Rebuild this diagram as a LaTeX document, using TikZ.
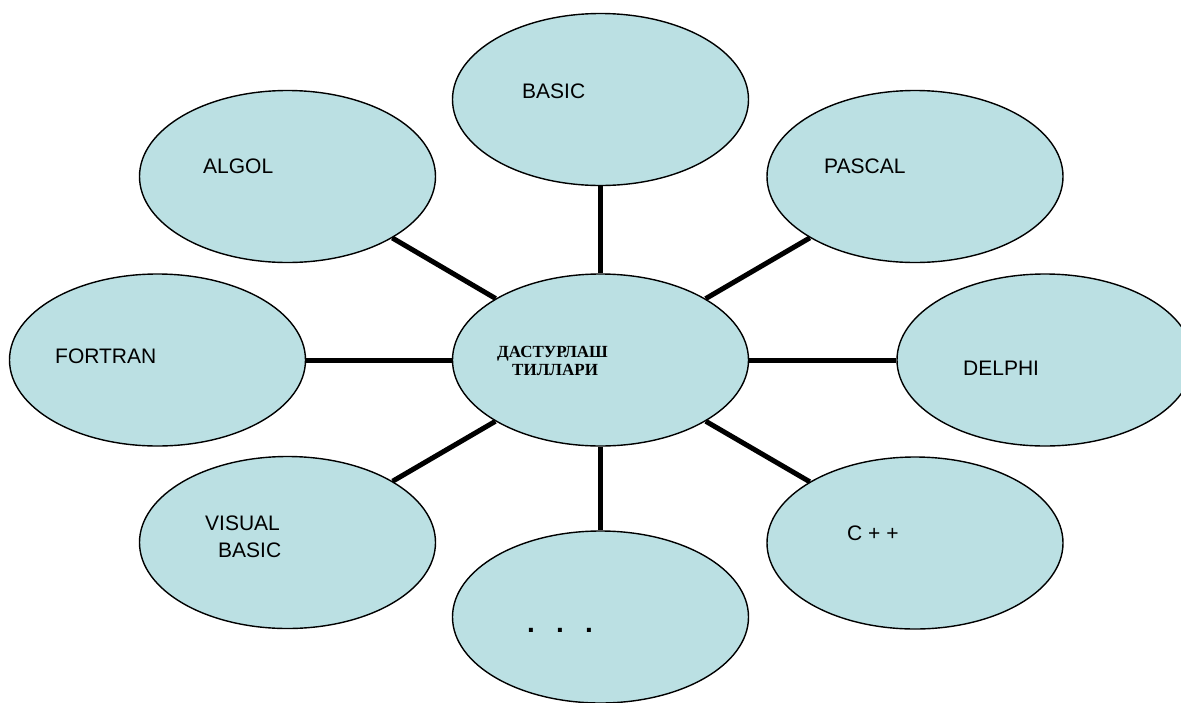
\documentclass[tikz,border=0pt]{standalone}
\usepackage{fontspec}
\setmainfont{Liberation Sans}
\newfontfamily\serifbold{Liberation Serif}
\usetikzlibrary{shapes.geometric}
\definecolor{bubble}{RGB}{187,224,227}
\tikzset{
  bub/.style={ellipse, draw=black, line width=1.4pt, fill=bubble, inner sep=0pt,
              minimum width=296pt, minimum height=172pt},
  conn/.style={draw=black, line width=5pt},
  lbl/.style={anchor=base west, inner sep=0pt, font=\fontsize{21}{27}\selectfont, align=left},
  ctrlbl/.style={anchor=base west, inner sep=0pt, font=\serifbold\bfseries\fontsize{17}{18}\selectfont},
}
\begin{document}
\begin{tikzpicture}[x=1pt,y=-1pt]
\useasboundingbox (0,0) rectangle (1181,702);
% ellipses
\node[bub] (ctr) at (600.5,360) {};
\node[bub] (basic) at (600.5,99.5) {};
\node[bub] (algol) at (287.5,176.5) {};
\node[bub] (pascal) at (915,176.5) {};
\node[bub] (fortran) at (157.5,360) {};
\node[bub] (delphi) at (1045,360) {};
\node[bub] (visual) at (287.5,542.5) {};
\node[bub] (cpp) at (915,543) {};
\node[bub] (dots) at (600.5,617) {};
% connectors
\path[conn] (ctr) -- (basic);
\path[conn] (ctr) -- (algol);
\path[conn] (ctr) -- (pascal);
\path[conn] (ctr) -- (fortran);
\path[conn] (ctr) -- (delphi);
\path[conn] (ctr) -- (visual);
\path[conn] (ctr) -- (cpp);
\path[conn] (ctr) -- (dots);
% labels
\node[ctrlbl] (tc1) at (497,357) {ДАСТУРЛАШ};
\node[ctrlbl] (tc2) at (512,375) {ТИЛЛАРИ};
\node[lbl] (tbasic) at (522,98) {BASIC};
\node[lbl] (talgol) at (203,173) {ALGOL};
\node[lbl] (tpascal) at (824,173) {PASCAL};
\node[lbl] (tfortran) at (55,363) {FORTRAN};
\node[lbl] (tdelphi) at (963,375) {DELPHI};
\node[lbl] (tvis1) at (205,530) {VISUAL};
\node[lbl] (tvis2) at (218,557) {BASIC};
\node[lbl] (tcpp) at (847,540) {C + +};
\node[anchor=base, inner sep=0pt, font=\fontsize{28}{28}\selectfont\bfseries] (tdots) at (560,632) {.\hspace{21.2pt}.\hspace{21.2pt}.};
\end{tikzpicture}
\end{document}
